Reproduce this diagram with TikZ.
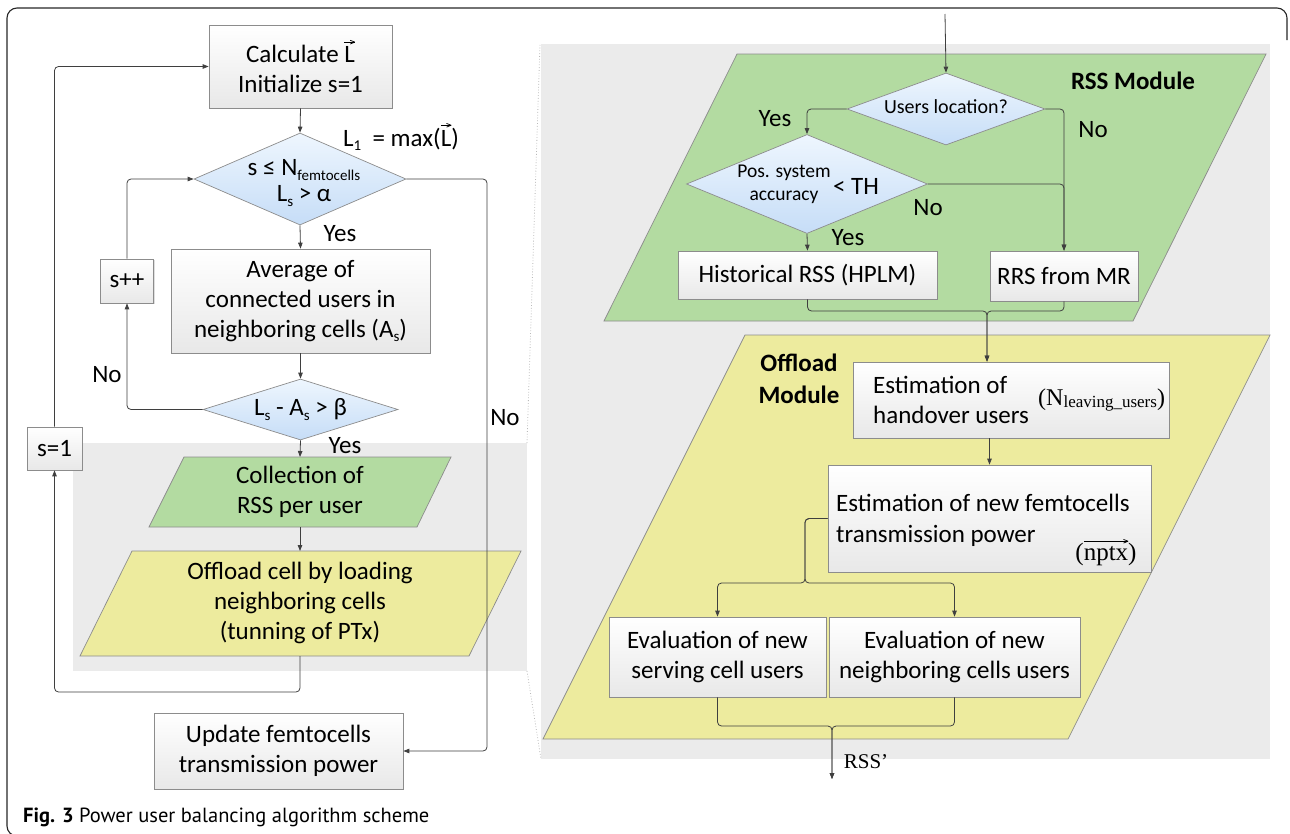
\documentclass[tikz,border=0pt]{standalone}
\usepackage{fontspec}
\usepackage{graphicx}
\setmainfont{Carlito}
\newfontfamily\seriffont{Liberation Serif}
\newfontfamily\capfont{PT Sans}
\usetikzlibrary{shapes.geometric,arrows.meta,shadows,calc}
\definecolor{lineC}{HTML}{3F3F3F}
\definecolor{bordC}{HTML}{8C8C8C}
\definecolor{bgGray}{HTML}{EBEBEB}
\definecolor{greenC}{HTML}{B3DBA1}
\definecolor{yellowC}{HTML}{EDEB9E}
\definecolor{blueTop}{HTML}{EEF6FE}
\definecolor{blueBot}{HTML}{C6DDF7}
\definecolor{boxBot}{HTML}{E8E8E8}
\newcommand\lsub[1]{\raisebox{-0.35ex}{\fontsize{15}{15}\selectfont #1}}
\newcommand\arrowover[1]{\leavevmode\vbox{\offinterlineskip\setbox0=\hbox{#1}%
  \hbox to\wd0{\rule{\wd0}{0.7pt}\llap{\rotatebox[origin=r]{22}{\rule{5pt}{0.7pt}}}\llap{\rotatebox[origin=r]{-22}{\rule{5pt}{0.7pt}}}}%
  \kern2.5pt\box0}}
\newcommand\vecL{\arrowover{L}}
\begin{document}
\begin{tikzpicture}[x=1pt,y=-1pt,
  every node/.style={font=\fontsize{25}{30}\selectfont, text=black},
  boxnode/.style={draw=bordC, line width=0.7pt, top color=white, bottom color=boxBot, align=center, inner sep=0pt,
    drop shadow={shadow xshift=1.2pt, shadow yshift=-1.2pt, opacity=0.25}},
  dia/.style={diamond, draw=bordC, line width=0.7pt, top color=blueTop, bottom color=blueBot, inner sep=0pt},
  ln/.style={draw=lineC, line width=0.8pt, rounded corners=4pt},
  arr/.style={ln, -{Triangle[length=6pt,width=4.5pt]}},
  lbl/.style={inner sep=0pt},
]
\useasboundingbox (0,0) rectangle (1290,833);
% frame
\draw[black!85, line width=1.1pt, rounded corners=10pt] (40,836) -| (7,8) -| (1287,40);
% background regions
\fill[bgGray] (541,44) rectangle (1270,759);
\fill[bgGray] (73,443) rectangle (527,671);
\draw[gray!55, dotted, line width=0.8pt] (527,443) -- (540,44);
\draw[gray!55, dotted, line width=0.8pt] (527,671) -- (541,759);
% module parallelograms
\filldraw[fill=greenC, draw=bordC, line width=0.7pt] (604,321) -- (737,54) -- (1266,54) -- (1133,321) -- cycle;
\filldraw[fill=yellowC, draw=bordC, line width=0.7pt] (543,739) -- (745,335) -- (1270,335) -- (1068,739) -- cycle;
% left flow parallelograms
\filldraw[fill=greenC, draw=bordC, line width=0.7pt] (149,527) -- (184,457) -- (451,457) -- (417,527) -- cycle;
\filldraw[fill=yellowC, draw=bordC, line width=0.7pt] (80,656) -- (132,551) -- (521,551) -- (469,656) -- cycle;
\coordinate (collT) at (300,457);
\coordinate (collB) at (300,527);
\coordinate (offT) at (300,551);
\coordinate (offB) at (300,656);
\node[lbl, align=center] (coll) at (300,492) {Collection of\\RSS per user};
\node[lbl, align=center] (off) at (300,603) {Offload cell by loading\\neighboring cells\\(tunning of PTx)};

% left nodes
\node[boxnode, minimum width=183pt, minimum height=83pt] (calc) at (300.5,66.5) {Calculate \vecL\\Initialize s=1};
\node[dia, minimum width=212pt, minimum height=92pt] (d1) at (300,179) {};
\node[lbl, align=center] (d1t) at (304,183) {s ≤ N\lsub{femtocells}\\[-4pt]L\lsub{s} > α};
\node[boxnode, minimum width=259pt, minimum height=104pt] (avg) at (300.5,301) {Average of\\connected users in\\neighboring cells (A\lsub{s})};
\node[dia, minimum width=195pt, minimum height=61pt] (d2) at (300.5,409.5) {};
\node[lbl] (d2t) at (300.5,409.5) {L\lsub{s} - A\lsub{s} > β};
\node[boxnode, minimum width=53pt, minimum height=44pt] (spp) at (127,281) {s++};
\node[boxnode, minimum width=55pt, minimum height=43pt] (s1) at (54.5,448.5) {s=1};
\node[boxnode, minimum width=249pt, minimum height=76pt] (upd) at (278.5,751) {Update femtocells\\transmission power};

% left labels
\node[lbl] (yes1) at (340,234) {Yes};
\node[lbl] (no1) at (107,375) {No};
\node[lbl] (yes2) at (345,446) {Yes};
\node[lbl] (no2) at (505,418) {No};
\node[lbl, anchor=base] (lmax) at (401,146) {L\lsub{1}\ \ = max(\vecL)};

% left connectors
\coordinate (nr) at (487,179);
\draw[arr] (calc.south) -- (d1.north);
\draw[arr] (d1.south) -- (avg.north);
\draw[arr] (avg.south) -- (d2.north);
\draw[arr] (d2.south) -- (collT);
\draw[arr] (collB) -- (offT);
\draw[arr] (offB) -- ++(0,36) -| (s1.south);
\draw[arr] (s1.north) |- (calc.west);
\draw[arr] (d2.west) -| (spp.south);
\draw[arr] (spp.north) |- (d1.west);
\draw[arr] (d1.east) -- (nr) |- (upd.east);

% RSS module
\node[lbl, font=\bfseries\fontsize{25}{30}\selectfont] (rssm) at (1133,81) {RSS Module};
\coordinate (rin) at (945,14);
\node[dia, minimum width=198pt, minimum height=72pt] (ul) at (946,109) {};
\node[lbl, font=\fontsize{20}{24}\selectfont] (ult) at (946,107) {Users location?};
\node[dia, minimum width=241pt, minimum height=99pt] (ps) at (807,184) {};
\node[lbl, align=center, font=\fontsize{19.5}{23}\selectfont] (pst) at (784,184) {Pos. system\\accuracy};
\node[lbl] (th) at (856,186) {< TH};
\node[boxnode, minimum width=259pt, minimum height=48pt] (hist) at (807.5,275) {Historical RSS (HPLM)};
\node[boxnode, minimum width=148pt, minimum height=50pt] (rrs) at (1064,276) {RRS from MR};
\node[lbl] (yes3) at (775,119) {Yes};
\node[lbl] (no3) at (1093,130) {No};
\node[lbl] (no4) at (928,208) {No};
\node[lbl] (yes4) at (848,238) {Yes};

% Offload module
\node[lbl, align=center, font=\bfseries\fontsize{25}{32}\selectfont] (offl) at (799,379) {Offload\\Module};
\node[boxnode, minimum width=316pt, minimum height=76pt] (est1) at (1011,400) {};
\node[lbl, align=left, anchor=west] (est1a) at (873,400) {Estimation of\\handover users};
\node[lbl, anchor=west] (est1b) at (1038,400) {\seriffont\fontsize{24}{24}\selectfont (N\raisebox{-0.25ex}{\fontsize{17}{17}\selectfont leaving\_users})};
\node[boxnode, minimum width=323pt, minimum height=107pt] (est2) at (989.5,518.5) {};
\node[lbl, anchor=base west] (est2a) at (836,511) {Estimation of new femtocells};
\node[lbl, anchor=base west] (est2c) at (836,542) {transmission power};
\node[lbl, anchor=base] (est2b) at (1106,560) {\seriffont\fontsize{25}{25}\selectfont (\arrowover{nptx})};
\node[boxnode, minimum width=217pt, minimum height=80pt] (ev1) at (717.5,657) {Evaluation of new\\serving cell users};
\node[boxnode, minimum width=251pt, minimum height=80pt] (ev2) at (954.5,657) {Evaluation of new\\neighboring cells users};
\node[lbl] (rssp) at (866,762) {\seriffont\fontsize{21}{21}\selectfont RSS’};

% right connectors
\coordinate (j1) at (987,311);
\coordinate (sp) at (805,583);
\coordinate (j2) at (832,726);
\coordinate (rout) at (832,779);
\draw[arr] (rin) -- (ul.north);
\draw[arr] (ul.west) -| (ps.north);
\draw[arr] (ul.east) -| (rrs.north);
\draw[arr] (ps.east) -| (rrs.north);
\draw[arr] (ps.south) -- (hist.north);
\draw[arr] (hist.south) |- (j1) -- (j1 |- est1.north);
\draw[arr] (rrs.south) |- (j1) -- (j1 |- est1.north);
\draw[arr] (est1.south -| est2.north) -- (est2.north);
\draw[arr] (est2.west) -| (sp) -| (ev1.north);
\draw[arr] (est2.west) -| (sp) -| (ev2.north);
\draw[arr] (ev1.south) |- (j2) -- (rout);
\draw[arr] (ev2.south) |- (j2) -- (rout);

% caption
\node[anchor=base west, inner sep=0pt] (cap) at (23,822) {\capfont\fontsize{20.5}{20.5}\selectfont\textbf{Fig. 3} Power user balancing algorithm scheme};
\end{tikzpicture}
\end{document}
